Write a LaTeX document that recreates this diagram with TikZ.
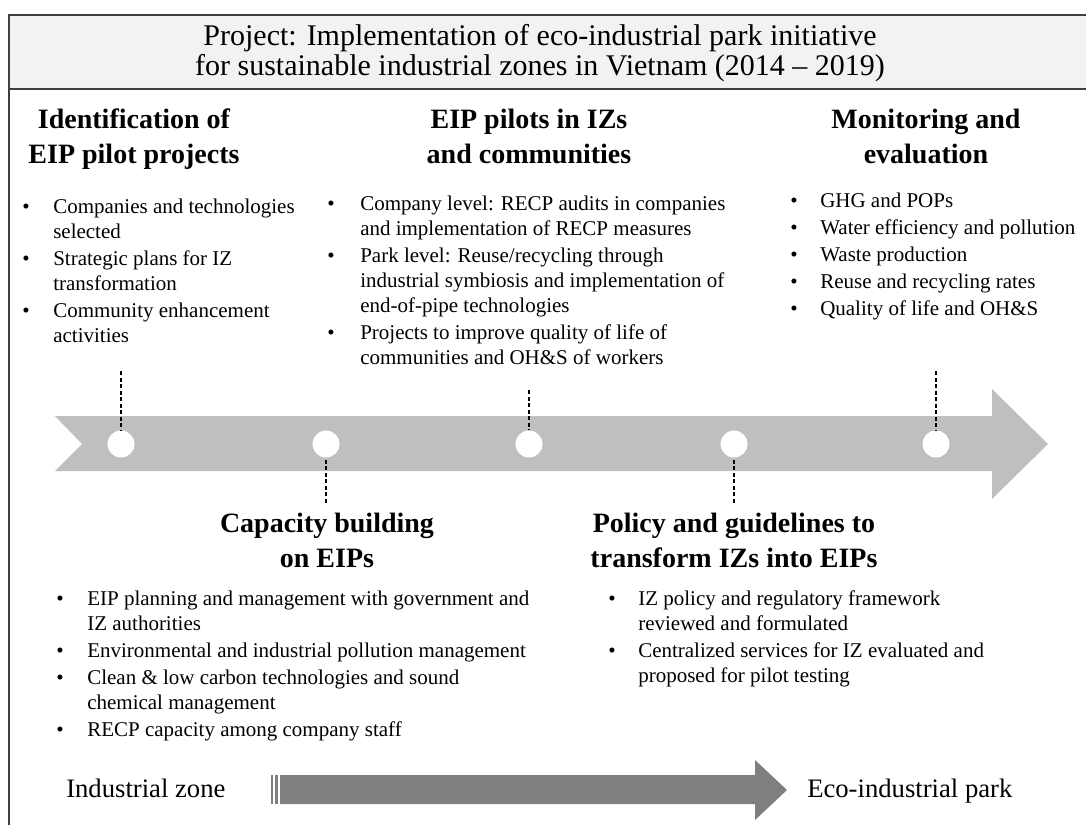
\documentclass[tikz,border=0pt]{standalone}
\usepackage{fontspec}
\setmainfont{Liberation Serif}
\usetikzlibrary{arrows.meta, positioning, calc}
\definecolor{cframe}{HTML}{404040}
\definecolor{chead}{HTML}{F2F2F2}
\definecolor{cband}{HTML}{BFBFBF}
\definecolor{cshift}{HTML}{7F7F7F}

\begin{document}
\begin{tikzpicture}[
    x=0.75pt, y=-0.75pt,
    title/.style={
        align=center, anchor=base, inner sep=0pt,
        font=\fontsize{22.5}{22.5}\selectfont
    },
    phase/.style={
        align=center, anchor=base, inner sep=0pt,
        font=\bfseries\fontsize{21}{26.25}\selectfont
    },
    items/.style={
        anchor=base west, inner sep=0pt,
        font=\fontsize{15.75}{18.75}\selectfont
    },
    stop/.style={circle, fill=white, inner sep=0pt, minimum size=20.25pt},
    tick/.style={line width=1.5pt, dash pattern=on 3pt off 1.9pt},
    endlabel/.style={
        anchor=base west, inner sep=0pt,
        font=\fontsize{20}{24}\selectfont
    },
]
\useasboundingbox (0,0) rectangle (1086,825);

% --- Frame and title ----------------------------------------------------------
% (multi-line nodes: the base anchor sits on the last line)
\fill[chead] (9,15) rectangle (1086,89);
\draw[cframe, line width=1.1pt] (1086,15) -- (9,15) -- (9,825);
\draw[cframe, line width=1.5pt] (9,89) -- (1086,89);
\node[title] (title) at (540,75) {%
    Project: Implementation of eco-industrial park initiative\\
    for sustainable industrial zones in Vietnam (2014 -- 2019)};

% --- Timeline band --------------------------------------------------------------
\fill[cband] (55,416) -- (992,416) -- (992,389) -- (1048,444)
    -- (992,499) -- (992,471) -- (55,471) -- (82,444) -- cycle;

\node[stop] (c1) at (121,444) {};
\node[stop] (c2) at (326,444) {};
\node[stop] (c3) at (529,444) {};
\node[stop] (c4) at (734,444) {};
\node[stop] (c5) at (936,444) {};

% --- Dashed ticks: odd stops point up, even stops point down ---------------------
\coordinate (t1) at (121,371);
\coordinate (t2) at (326,503);
\coordinate (t3) at (529,390);
\coordinate (t4) at (734,503);
\coordinate (t5) at (936,371);
\draw[tick] (t1) -- (c1.north);
\draw[tick] (t2) -- (c2.south);
\draw[tick] (t3) -- (c3.north);
\draw[tick] (t4) -- (c4.south);
\draw[tick] (t5) -- (c5.north);

% --- Phase 1 ------------------------------------------------------------------
\node[phase] (h1) at (134,163) {Identification of\\EIP pilot projects};
\node[items] (l1) at (22,213) {%
    \begin{tabular}[t]{@{}p{23.25pt}@{}l@{}}
    \textbullet & Companies and technologies\\
                & selected\\[1.5pt]
    \textbullet & Strategic plans for IZ\\
                & transformation\\[1.5pt]
    \textbullet & Community enhancement\\
                & activities
    \end{tabular}};

% --- Phase 2 ------------------------------------------------------------------
\node[phase] (h2) at (327,567) {Capacity building\\on EIPs};
\node[items] (l2) at (56,605) {%
    \begin{tabular}[t]{@{}p{23.25pt}@{}l@{}}
    \textbullet & EIP planning and management with government and\\
                & IZ authorities\\[1.5pt]
    \textbullet & Environmental and industrial pollution management\\[1.5pt]
    \textbullet & Clean \& low carbon technologies and sound\\
                & chemical management\\[1.5pt]
    \textbullet & RECP capacity among company staff
    \end{tabular}};

% --- Phase 3 ------------------------------------------------------------------
\node[phase] (h3) at (529,163) {EIP pilots in IZs\\and communities};
\node[items] (l3) at (327,210) {%
    \begin{tabular}[t]{@{}p{24.75pt}@{}l@{}}
    \textbullet & Company level: RECP audits in companies\\
                & and implementation of RECP measures\\[1.5pt]
    \textbullet & Park level: Reuse/recycling through\\
                & industrial symbiosis and implementation of\\
                & end-of-pipe technologies\\[1.5pt]
    \textbullet & Projects to improve quality of life of\\
                & communities and OH\&S of workers
    \end{tabular}};

% --- Phase 4 ------------------------------------------------------------------
\node[phase] (h4) at (734,567) {Policy and guidelines to\\transform IZs into EIPs};
\node[items] (l4) at (608,605) {%
    \begin{tabular}[t]{@{}p{22.5pt}@{}l@{}}
    \textbullet & IZ policy and regulatory framework\\
                & reviewed and formulated\\[1.5pt]
    \textbullet & Centralized services for IZ evaluated and\\
                & proposed for pilot testing
    \end{tabular}};

% --- Phase 5 ------------------------------------------------------------------
\node[phase] (h5) at (926,163) {Monitoring and\\evaluation};
\node[items] (l5) at (790,207) {%
    \begin{tabular}[t]{@{}p{22.5pt}@{}l@{}}
    \textbullet & GHG and POPs\\[1.5pt]
    \textbullet & Water efficiency and pollution\\[1.5pt]
    \textbullet & Waste production\\[1.5pt]
    \textbullet & Reuse and recycling rates\\[1.5pt]
    \textbullet & Quality of life and OH\&S
    \end{tabular}};

% --- Transition arrow at the bottom ---------------------------------------------
\node[endlabel] (from) at (66,797) {Industrial zone};
\node[endlabel] (to)   at (807,797) {Eco-industrial park};
\fill[cshift] (270.5,775) rectangle (272.5,804);
\fill[cshift] (275,775) rectangle (277.5,804);
\fill[cshift] (280,775) -- (755,775) -- (755,760) -- (787,790)
    -- (755,820) -- (755,804) -- (280,804) -- cycle;

\end{tikzpicture}
\end{document}
